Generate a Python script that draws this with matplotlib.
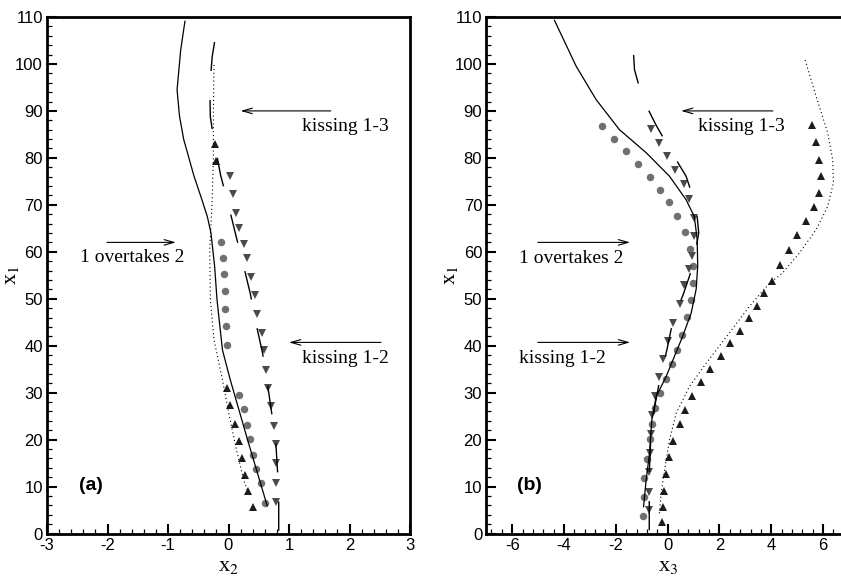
import matplotlib
matplotlib.use("Agg")
from matplotlib import pyplot as plt
from matplotlib.ticker import MultipleLocator, AutoMinorLocator

# panel (a): lateral position x2 along the streamwise coordinate x1
a_solid_x1 = [5.9, 19.3, 32.7, 39.1, 49.8, 57.0, 64.0, 67.5, 71.1, 76.1, 83.9, 88.9, 94.5, 103.0, 109.1]
a_solid_x2 = [0.64, 0.33, 0.03, -0.10, -0.19, -0.23, -0.29, -0.35, -0.44, -0.57, -0.74, -0.81, -0.85, -0.79, -0.72]

a_dotted_x1 = [9.3, 11.4, 18.5, 25.6, 32.7, 41.3, 49.8, 60.4, 71.0, 80.0, 90.0, 100.4]
a_dotted_x2 = [0.31, 0.25, 0.12, 0.005, -0.10, -0.24, -0.30, -0.31, -0.27, -0.25, -0.25, -0.24]

a_dashed_x1 = [0.6, 7.0, 13.4, 19.8, 26.9, 32.2, 38.6, 45.0, 51.1, 57.5, 63.8, 69.9, 76.3, 83.7, 88.7, 95.1, 101.5, 107.9]
a_dashed_x2 = [0.83, 0.83, 0.81, 0.78, 0.70, 0.64, 0.56, 0.45, 0.36, 0.24, 0.116, 0.0, -0.13, -0.24, -0.30, -0.31, -0.27, -0.19]

a_up_x1 = [5.6, 9.0, 12.5, 16.1, 19.6, 23.4, 27.3, 31.0, 79.3, 83.0]
a_up_x2 = [0.40, 0.33, 0.28, 0.22, 0.17, 0.11, 0.03, -0.02, -0.20, -0.215]

a_circ_x1 = [6.6, 10.7, 13.7, 16.8, 20.1, 23.2, 26.5, 29.6, 40.1, 44.1, 47.9, 51.6, 55.2, 58.7, 62.1]
a_circ_x2 = [0.61, 0.53, 0.46, 0.40, 0.35, 0.31, 0.25, 0.17, -0.02, -0.045, -0.05, -0.06, -0.078, -0.095, -0.13]

a_down_x1 = [6.8, 10.8, 15.0, 19.0, 23.0, 27.1, 31.0, 34.9, 39.0, 42.8, 46.8, 50.9, 54.6, 58.7, 61.7, 65.0, 68.2, 72.2, 76.1]
a_down_x2 = [0.79, 0.79, 0.79, 0.78, 0.76, 0.71, 0.66, 0.62, 0.58, 0.55, 0.47, 0.44, 0.38, 0.31, 0.26, 0.18, 0.12, 0.07, 0.03]

# panel (b): lateral position x3 along x1
b_solid_x1 = [5.7, 11.4, 17.1, 24.2, 29.2, 33.4, 37.7, 42.0, 47.0, 52.0, 56.9, 62.6, 67.5, 71.1, 76.1, 81.1, 86.0, 92.4, 99.5, 109.3]
b_solid_x3 = [-0.93, -0.83, -0.70, -0.61, -0.44, -0.06, 0.26, 0.58, 0.91, 1.10, 1.16, 1.14, 1.03, 0.71, 0.07, -0.83, -1.86, -2.76, -3.53, -4.37]

b_dotted_x1 = [4.3, 8.6, 13.5, 19.9, 25.6, 31.3, 36.3, 42.7, 48.4, 53.3, 55.5, 59.7, 64.7, 69.7, 74.7, 79.6, 85.3, 93.1, 101.3]
b_dotted_x3 = [-0.32, -0.25, -0.12, 0.07, 0.33, 0.84, 1.49, 2.38, 3.16, 3.93, 4.44, 5.08, 5.73, 6.18, 6.40, 6.37, 6.18, 5.73, 5.28]

b_dashed_x1 = [0.7, 7.1, 12.8, 21.7, 27.0, 33.4, 39.1, 45.2, 51.2, 56.9, 64.0, 69.7, 76.1, 81.4, 86.9, 92.8, 98.8, 105.2]
b_dashed_x3 = [-0.71, -0.71, -0.71, -0.64, -0.50, -0.28, -0.03, 0.20, 0.62, 0.97, 1.20, 1.10, 0.71, 0.13, -0.44, -0.98, -1.28, -1.35]

b_up_x1 = [2.4, 5.7, 9.1, 12.6, 16.2, 19.8, 23.3, 26.3, 29.3, 32.2, 35.0, 37.8, 40.6, 43.2, 45.9, 48.5, 51.2, 53.7,
           57.1, 60.4, 63.5, 66.5, 69.6, 72.5, 76.1, 79.6, 83.3, 86.9]
b_up_x3 = [-0.23, -0.19, -0.15, -0.06, 0.04, 0.21, 0.46, 0.66, 0.94, 1.27, 1.64, 2.04, 2.42, 2.80, 3.13, 3.45, 3.73, 4.02,
           4.34, 4.67, 5.00, 5.34, 5.64, 5.86, 5.93, 5.86, 5.73, 5.56]

b_circ_x1 = [3.7, 7.7, 11.9, 15.9, 20.1, 23.3, 26.7, 29.9, 32.9, 36.1, 39.1, 42.3, 46.1, 49.8, 53.3, 57.0, 60.6, 64.2,
             67.7, 70.5, 73.2, 75.9, 78.7, 81.4, 84.1, 86.7]
b_circ_x3 = [-0.96, -0.93, -0.90, -0.81, -0.70, -0.59, -0.48, -0.29, -0.06, 0.17, 0.37, 0.56, 0.75, 0.91, 0.97, 0.97, 0.87, 0.67,
             0.38, 0.07, -0.29, -0.70, -1.14, -1.60, -2.06, -2.53]

b_down_x1 = [5.0, 8.9, 13.0, 17.1, 21.2, 25.3, 29.2, 33.3, 37.1, 41.0, 44.8, 48.9, 53.0, 56.3, 59.0, 63.3, 67.2, 71.3,
             74.5, 77.4, 80.3, 83.2, 86.2]
b_down_x3 = [-0.73, -0.73, -0.73, -0.70, -0.66, -0.60, -0.48, -0.34, -0.19, 0.0, 0.22, 0.46, 0.65, 0.81, 0.95, 1.03, 1.03, 0.84,
             0.62, 0.30, -0.02, -0.34, -0.66]

SANS = "Liberation Sans"
SERIF = "Liberation Serif"
ARROW = dict(arrowstyle="->,head_length=0.7,head_width=0.2", lw=0.8, color="black", shrinkA=0, shrinkB=0)


def style_axis(ax, xlim, xmajor, xlabel):
    ax.set_xlim(*xlim)
    ax.set_ylim(0, 110)
    ax.xaxis.set_major_locator(MultipleLocator(xmajor))
    ax.xaxis.set_minor_locator(AutoMinorLocator(5))
    ax.yaxis.set_major_locator(MultipleLocator(10))
    ax.yaxis.set_minor_locator(AutoMinorLocator(5))
    for side in ax.spines.values():
        side.set_linewidth(2.0)
    ax.tick_params(which="both", direction="in", top=False, right=False, labelsize=12, pad=3)
    ax.tick_params(which="major", length=7, width=1.5)
    ax.tick_params(which="minor", length=3.5, width=0.9)
    for lab in ax.get_xticklabels() + ax.get_yticklabels():
        lab.set_fontfamily(SANS)
    ax.set_xlabel(xlabel, fontfamily=SERIF, fontsize=16)
    ax.set_ylabel("x$_1$", fontfamily=SERIF, fontsize=16)
    ax.xaxis.set_label_coords(0.5, -0.045)
    ax.yaxis.set_label_coords(-0.073, 0.5)


def draw_curves(ax, solid, dotted, dashed, up, circ, down):
    ax.plot(up[0], up[1], linestyle="none", marker="^", ms=6.2, color="#1c1c1c", mew=0, zorder=2)
    ax.plot(circ[0], circ[1], linestyle="none", marker="o", ms=5.4, color="#707070", mew=0, zorder=2)
    ax.plot(down[0], down[1], linestyle="none", marker="v", ms=6.2, color="#4a4a4a", mew=0, zorder=2)
    ax.plot(solid[0], solid[1], color="black", lw=0.9, zorder=3)
    ax.plot(dotted[0], dotted[1], color="black", lw=0.8, linestyle=(0, (1, 2.5)), zorder=3)
    ax.plot(dashed[0], dashed[1], color="black", lw=1.0, linestyle=(0, (21, 21)), zorder=3)


def label_arrow(ax, tail, head, text, text_pos):
    ax.annotate("", xy=head, xytext=tail, arrowprops=ARROW)
    ax.text(text_pos[0], text_pos[1], text, fontfamily=SERIF, fontsize=14, ha="center", va="center")


def main():
    plt.rcParams["axes.unicode_minus"] = False
    plt.rcParams["mathtext.fontset"] = "stix"

    fig = plt.figure(figsize=(8.41, 5.81), dpi=100)
    ax_a = fig.add_axes([47 / 841, 47.5 / 581, 363 / 841, 516.5 / 581])
    ax_b = fig.add_axes([486.3 / 841, 47.5 / 581, 362.7 / 841, 516.5 / 581])

    draw_curves(ax_a, (a_solid_x2, a_solid_x1), (a_dotted_x2, a_dotted_x1), (a_dashed_x2, a_dashed_x1),
                (a_up_x2, a_up_x1), (a_circ_x2, a_circ_x1), (a_down_x2, a_down_x1))
    style_axis(ax_a, (-3, 3), 1, "x$_2$")
    label_arrow(ax_a, (1.69, 90), (0.2, 90), "kissing 1-3", (1.93, 86.6))
    label_arrow(ax_a, (-2.01, 62), (-0.87, 62), "1 overtakes 2", (-1.59, 58.7))
    label_arrow(ax_a, (2.52, 40.7), (1.0, 40.7), "kissing 1-2", (1.93, 37.3))
    ax_a.text(-2.27, 10.2, "(a)", fontfamily=SANS, fontweight="bold", fontsize=14, ha="center", va="center")

    draw_curves(ax_b, (b_solid_x3, b_solid_x1), (b_dotted_x3, b_dotted_x1), (b_dashed_x3, b_dashed_x1),
                (b_up_x3, b_up_x1), (b_circ_x3, b_circ_x1), (b_down_x3, b_down_x1))
    style_axis(ax_b, (-7, 7), 2, "x$_3$")
    label_arrow(ax_b, (4.06, 90), (0.52, 90), "kissing 1-3", (2.83, 86.6))
    label_arrow(ax_b, (-5.01, 62), (-1.45, 62), "1 overtakes 2", (-3.72, 58.6))
    label_arrow(ax_b, (-5.01, 40.7), (-1.45, 40.7), "kissing 1-2", (-4.07, 37.2))
    ax_b.text(-5.33, 10.2, "(b)", fontfamily=SANS, fontweight="bold", fontsize=14, ha="center", va="center")

    fig.savefig("out.png", dpi=100)


if __name__ == "__main__":
    main()
